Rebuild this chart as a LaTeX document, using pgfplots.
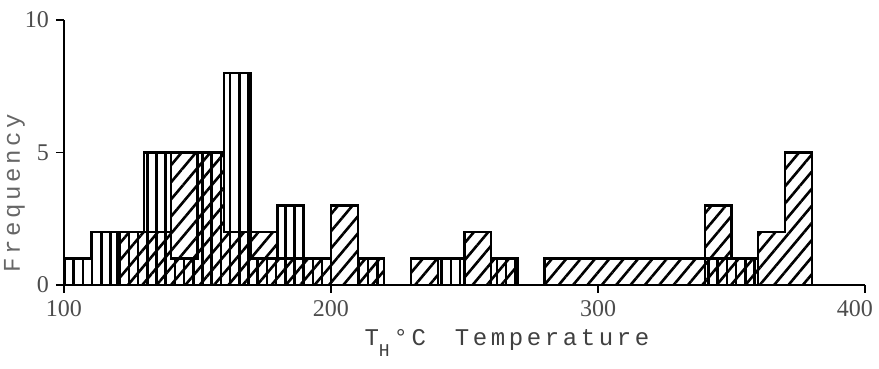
\documentclass[border=0pt]{standalone}
\usepackage{fontspec}
\setmainfont{Liberation Serif}
\newfontfamily\labelfont[LetterSpace=15]{Liberation Mono}
\usepackage{pgfplots}
\usepackage{pgfplotstable}
\pgfplotsset{compat=1.18}
\usetikzlibrary{patterns.meta}

% Homogenisation temperatures, 10 degree classes (left edges);
% v = vertically hatched population, d = diagonally hatched population
\pgfplotstableread{
x   v  d
100 1  0
110 2  0
120 2  2
130 5  2
140 1  5
150 5  5
160 8  2
170 1  2
180 3  1
190 1  1
200 0  3
210 1  1
220 0  0
230 0  1
240 1  0
250 0  2
260 1  1
270 0  0
280 0  1
290 0  1
300 0  1
310 0  1
320 0  1
330 0  1
340 1  3
350 1  1
360 0  2
370 0  5
380 0  0
}\histdata

\begin{document}
\begin{tikzpicture}
\path[use as bounding box] (-32pt,-42pt) rectangle (407.5pt,142.5pt);
\begin{axis}[
  scale only axis,
  width=400.5pt, height=132.5pt,
  xmin=100, xmax=400, ymin=0, ymax=10,
  axis lines=left,
  axis line style={-, line width=1pt},
  xtick={100,200,300},
  extra x ticks={400},
  extra x tick style={xticklabel style={xshift=-5pt}},
  ytick={0,5,10},
  tick align=outside,
  major tick length=4pt,
  tick style={line width=0.8pt, black},
  /pgf/number format/assume math mode=true,
  ticklabel style={font=\fontsize{12}{12}\selectfont, text=black!70},
  xlabel={\labelfont T\raisebox{-0.9ex}{\fontsize{9}{9}\selectfont H}\,°C\hspace{1.2em}Temperature},
  ylabel={\labelfont Frequency},
  xlabel style={at={(axis description cs:0.553,-0.219)}, anchor=center,
    font=\fontsize{12}{12}\selectfont, text=black!75},
  ylabel style={at={(axis description cs:-0.062,0.347)}, anchor=center,
    font=\fontsize{12}{12}\selectfont, text=black!60},
  clip=false,
]
% each population as one stepped outline
\addplot[const plot, draw=black, line width=1.1pt, line join=miter,
  pattern={Lines[angle=50, distance=5.5pt, line width=1.3pt]}, pattern color=black]
  table[x=x, y=d] {\histdata} \closedcycle;
\addplot[const plot, draw=black, line width=1.1pt, line join=miter,
  pattern={Lines[angle=90, distance=4.6pt, line width=1.3pt]}, pattern color=black]
  table[x=x, y=v] {\histdata} \closedcycle;
\end{axis}
\end{tikzpicture}
\end{document}
